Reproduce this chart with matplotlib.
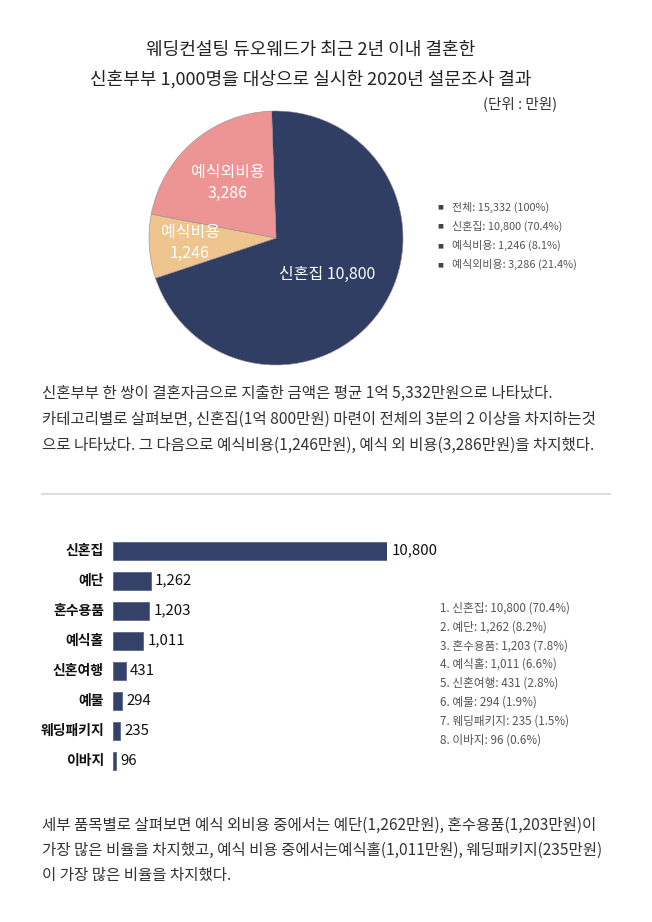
import matplotlib
matplotlib.use("Agg")
import matplotlib.pyplot as plt

plt.rcParams['font.family'] = ['Noto Sans CJK KR', 'DejaVu Sans']

W, H = 652, 922

# ---- data ----
pie_labels = ["신혼집", "예식비용", "예식외비용"]
pie_values = [10800, 1246, 3286]
pie_colors = ["#2f3e62", "#eec58e", "#ed9494"]
pie_legend = ["전체: 15,332 (100%)", "신혼집: 10,800 (70.4%)",
              "예식비용: 1,246 (8.1%)", "예식외비용: 3,286 (21.4%)"]

bar_labels = ["신혼집", "예단", "혼수용품", "예식홀", "신혼여행", "예물", "웨딩패키지", "이바지"]
bar_values = [10800, 1262, 1203, 1011, 431, 294, 235, 96]
bar_legend = ["1. 신혼집: 10,800 (70.4%)", "2. 예단: 1,262 (8.2%)",
              "3. 혼수용품: 1,203 (7.8%)", "4. 예식홀: 1,011 (6.6%)",
              "5. 신혼여행: 431 (2.8%)", "6. 예물: 294 (1.9%)",
              "7. 웨딩패키지: 235 (1.5%)", "8. 이바지: 96 (0.6%)"]

title_lines = ["웨딩컨설팅 듀오웨드가 최근 2년 이내 결혼한",
               "신혼부부 1,000명을 대상으로 실시한 2020년 설문조사 결과"]
unit_text = "(단위 : 만원)"
para1 = ["신혼부부 한 쌍이 결혼자금으로 지출한 금액은 평균 1억 5,332만원으로 나타났다.",
         "카테고리별로 살펴보면, 신혼집(1억 800만원) 마련이 전체의 3분의 2 이상을 차지하는것",
         "으로 나타났다. 그 다음으로 예식비용(1,246만원), 예식 외 비용(3,286만원)을 차지했다."]
para2 = ["세부 품목별로 살펴보면 예식 외비용 중에서는 예단(1,262만원), 혼수용품(1,203만원)이",
         "가장 많은 비율을 차지했고, 예식 비용 중에서는예식홀(1,011만원), 웨딩패키지(235만원)",
         "이 가장 많은 비율을 차지했다."]


def fx(x):
    return x / W


def fy(y):
    return 1 - y / H


fig = plt.figure(figsize=(W / 100, H / 100), dpi=100)
fig.patch.set_facecolor("white")

# ---- title ----
fig.text(fx(311), fy(50), title_lines[0], ha="center", va="center", fontsize=13, color="#222222")
fig.text(fx(311), fy(79), title_lines[1], ha="center", va="center", fontsize=13, color="#222222")
fig.text(fx(557), fy(104), unit_text, ha="right", va="center", fontsize=10.5, color="#333333")

# ---- pie ----
cx, cy, r = 276, 238, 127
axp = fig.add_axes([fx(cx - r), fy(cy + r), 2 * r / W, 2 * r / H])
wedges, _ = axp.pie(pie_values, colors=pie_colors, startangle=92, counterclock=False,
                    radius=1.0, wedgeprops=dict(linewidth=0.4, edgecolor="#9a8a90"))
axp.set_xlim(-1, 1)
axp.set_ylim(-1, 1)
axp.set_aspect("auto")
axp.axis("off")

def pie_text(x, y, s):
    fig.text(fx(x), fy(y), s, ha="center", va="center", fontsize=11.5, color="white",
             linespacing=1.25)

pie_text(327, 274, f"{pie_labels[0]} {pie_values[0]:,}")
pie_text(190, 243, f"{pie_labels[1]}\n{pie_values[1]:,}")
pie_text(228, 183, f"{pie_labels[2]}\n{pie_values[2]:,}")

for i, s in enumerate(pie_legend):
    y = 207 + i * 19.3
    fig.text(fx(440), fy(y), "■", ha="center", va="center", fontsize=4.5, color="#444444",
             family=["DejaVu Sans"])
    fig.text(fx(452), fy(y), s, ha="left", va="center", fontsize=7.9, color="#555555")

# ---- paragraph 1 ----
for i, s in enumerate(para1):
    fig.text(fx(42), fy(393 + i * 26), s, ha="left", va="center", fontsize=11.2, color="#333333")

# ---- separator ----
fig.add_artist(plt.Line2D([fx(42), fx(610)], [fy(494), fy(494)], color="#d6d6d6", linewidth=1.2))

# ---- bars (axis range clips the largest bar, as in the reference) ----
row0, step = 550.7, 30.0
n = len(bar_values)
top = row0 - step / 2
bottom = row0 + step * (n - 0.5)
x0 = 113
axw = 274
xmax = 9150
axb = fig.add_axes([fx(x0), fy(bottom), axw / W, (bottom - top) / H])
ypos = list(range(n))
axb.barh(ypos, bar_values, height=0.6, color="#34426a", edgecolor="#5a6890", linewidth=0.6)
axb.set_xlim(0, xmax)
axb.set_ylim(n - 0.5, -0.5)
axb.axis("off")
for i, (lab, v) in enumerate(zip(bar_labels, bar_values)):
    axb.text(min(v, xmax) + 140, i, f"{v:,}", ha="left", va="center", fontsize=10.8,
             color="#111111", fontweight="medium", clip_on=False)
    fig.text(fx(104), fy(row0 + i * step), lab, ha="right", va="center", fontsize=10,
             color="#111111", fontweight="bold")

for i, s in enumerate(bar_legend):
    fig.text(fx(440), fy(608 + i * 18.8), s, ha="left", va="center", fontsize=8.4, color="#555555")

# ---- paragraph 2 ----
for i, s in enumerate(para2):
    fig.text(fx(42), fy(825 + i * 25), s, ha="left", va="center", fontsize=11.2, color="#333333")

fig.savefig("out.png", dpi=100, facecolor="white")
